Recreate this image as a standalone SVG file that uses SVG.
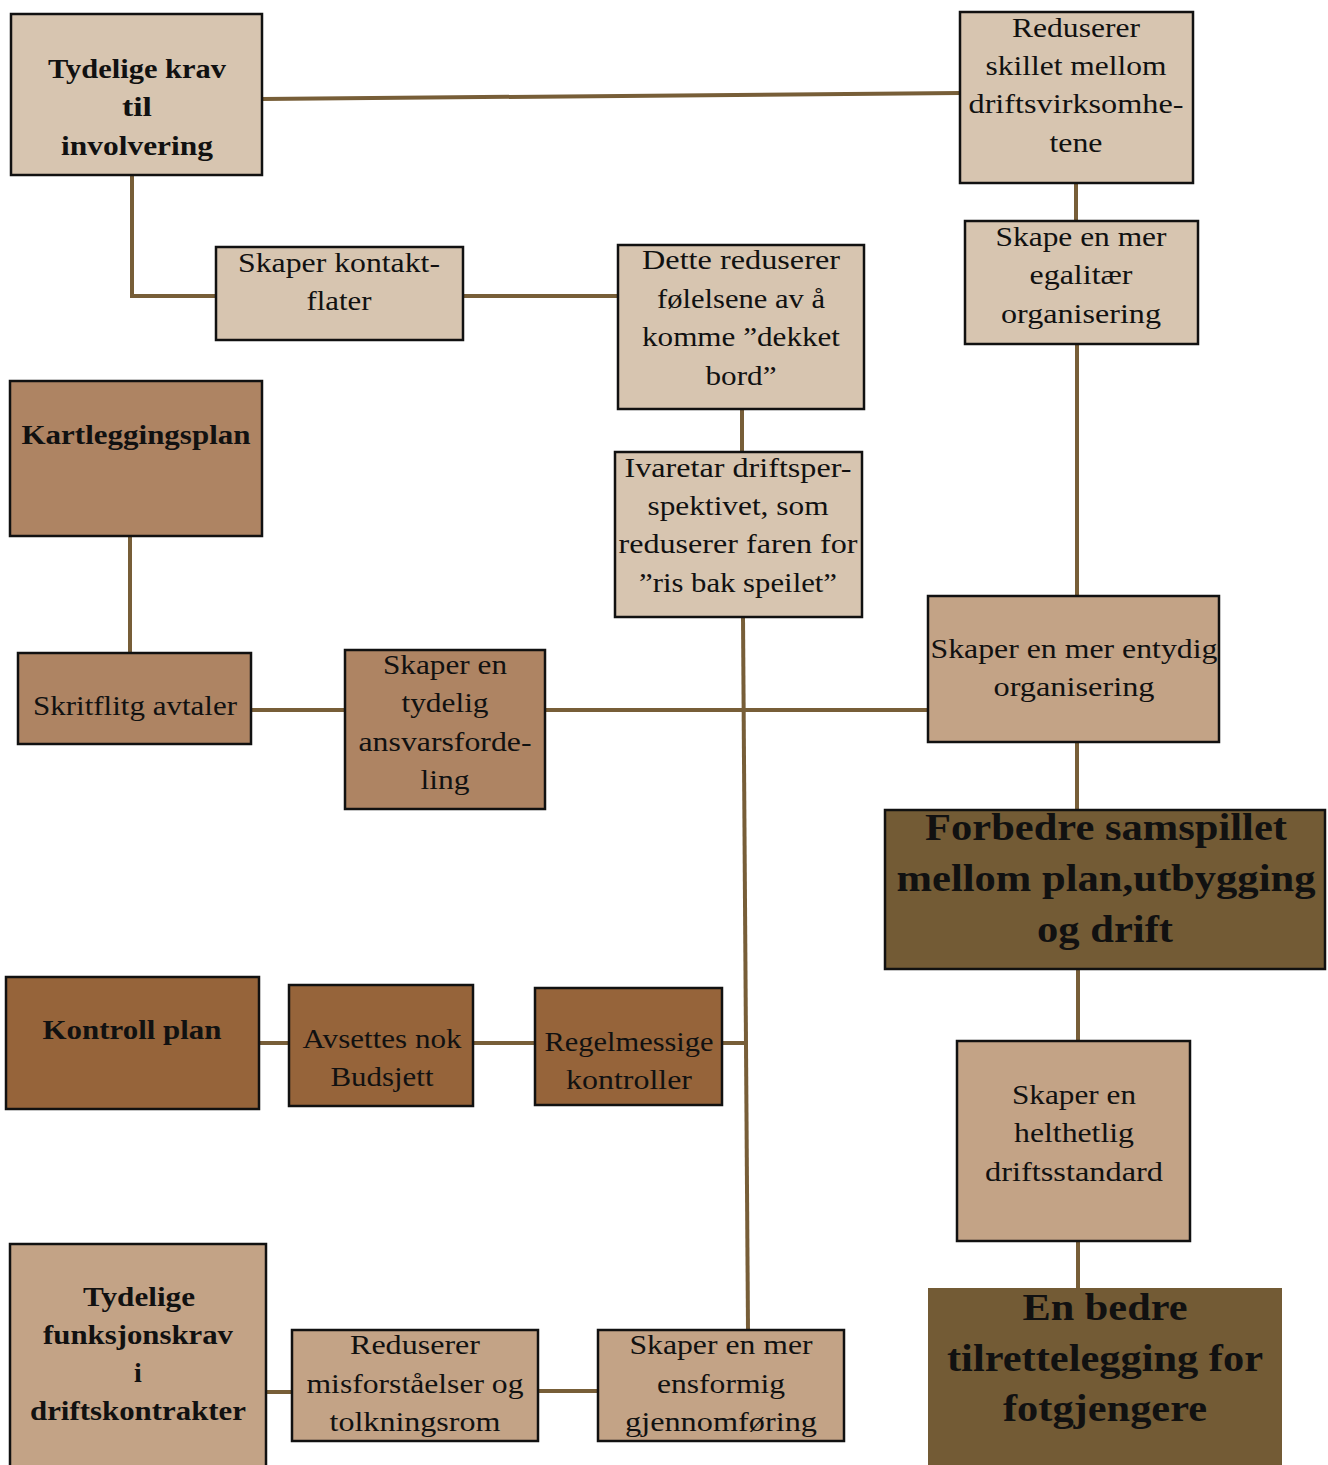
<svg xmlns="http://www.w3.org/2000/svg" width="1328" height="1465" viewBox="0 0 1328 1465">
  <style>
    .box { stroke: #111; stroke-width: 2.5; }
    .c1 { fill: #d7c5b0; }
    .c2 { fill: #c3a386; }
    .c3 { fill: #ae8463; }
    .c4 { fill: #96643a; }
    .c5 { fill: #735b35; }
    text { font-family: "Liberation Serif", "DejaVu Serif", serif; fill: #111; text-anchor: middle; }
    .t { font-size: 28px; }
    .b { font-size: 28px; font-weight: bold; }
    .big { font-size: 38px; font-weight: bold; }
    .link { stroke: #775e38; stroke-width: 4; fill: none; }
  </style>

  <!-- connectors -->
  <g id="connectors">
    <line class="link" x1="262" y1="99" x2="960" y2="93"/>
    <polyline class="link" points="132,175 132,296 216,296"/>
    <line class="link" x1="463" y1="296" x2="618" y2="296"/>
    <line class="link" x1="1076" y1="183" x2="1076" y2="221"/>
    <line class="link" x1="1077" y1="344" x2="1077" y2="596"/>
    <line class="link" x1="742" y1="409" x2="742" y2="452"/>
    <line class="link" x1="743" y1="617" x2="748" y2="1330"/>
    <line class="link" x1="130" y1="536" x2="130" y2="653"/>
    <line class="link" x1="251" y1="710" x2="345" y2="710"/>
    <line class="link" x1="545" y1="710" x2="928" y2="710"/>
    <line class="link" x1="1077" y1="742" x2="1077" y2="810"/>
    <line class="link" x1="1078" y1="969" x2="1078" y2="1041"/>
    <line class="link" x1="1078" y1="1241" x2="1078" y2="1288"/>
    <line class="link" x1="259" y1="1043" x2="289" y2="1043"/>
    <line class="link" x1="473" y1="1043" x2="535" y2="1043"/>
    <line class="link" x1="722" y1="1043" x2="746" y2="1043"/>
    <line class="link" x1="266" y1="1392" x2="292" y2="1392"/>
    <line class="link" x1="538" y1="1391" x2="598" y2="1391"/>
  </g>

  <g id="tydelige-krav">
    <rect class="box c1" x="11" y="14" width="251" height="161"/>
    <text class="b" x="137" y="78" textLength="178" lengthAdjust="spacingAndGlyphs">Tydelige krav</text>
    <text class="b" x="137" y="116" textLength="30" lengthAdjust="spacingAndGlyphs">til</text>
    <text class="b" x="137" y="155" textLength="152" lengthAdjust="spacingAndGlyphs">involvering</text>
  </g>

  <g id="reduserer-skillet">
    <rect class="box c1" x="960" y="12" width="233" height="171"/>
    <text class="t" x="1076" y="37" textLength="128" lengthAdjust="spacingAndGlyphs">Reduserer</text>
    <text class="t" x="1076" y="75" textLength="181" lengthAdjust="spacingAndGlyphs">skillet mellom</text>
    <text class="t" x="1076" y="113" textLength="215" lengthAdjust="spacingAndGlyphs">driftsvirksomhe-</text>
    <text class="t" x="1076" y="152" textLength="53" lengthAdjust="spacingAndGlyphs">tene</text>
  </g>

  <g id="egalitaer">
    <rect class="box c1" x="965" y="221" width="233" height="123"/>
    <text class="t" x="1081" y="246" textLength="171" lengthAdjust="spacingAndGlyphs">Skape en mer</text>
    <text class="t" x="1081" y="284" textLength="103" lengthAdjust="spacingAndGlyphs">egalitær</text>
    <text class="t" x="1081" y="323" textLength="160" lengthAdjust="spacingAndGlyphs">organisering</text>
  </g>

  <g id="kontaktflater">
    <rect class="box c1" x="216" y="247" width="247" height="93"/>
    <text class="t" x="339" y="272" textLength="202" lengthAdjust="spacingAndGlyphs">Skaper kontakt-</text>
    <text class="t" x="339" y="310" textLength="65" lengthAdjust="spacingAndGlyphs">flater</text>
  </g>

  <g id="dekket-bord">
    <rect class="box c1" x="618" y="245" width="246" height="164"/>
    <text class="t" x="741" y="269" textLength="198" lengthAdjust="spacingAndGlyphs">Dette reduserer</text>
    <text class="t" x="741" y="308" textLength="168" lengthAdjust="spacingAndGlyphs">følelsene av å</text>
    <text class="t" x="741" y="346" textLength="198" lengthAdjust="spacingAndGlyphs">komme ”dekket</text>
    <text class="t" x="741" y="385" textLength="71" lengthAdjust="spacingAndGlyphs">bord”</text>
  </g>

  <g id="kartleggingsplan">
    <rect class="box c3" x="10" y="381" width="252" height="155"/>
    <text class="b" x="136" y="444" textLength="229" lengthAdjust="spacingAndGlyphs">Kartleggingsplan</text>
  </g>

  <g id="driftsperspektivet">
    <rect class="box c1" x="615" y="452" width="247" height="165"/>
    <text class="t" x="738" y="477" textLength="227" lengthAdjust="spacingAndGlyphs">Ivaretar driftsper-</text>
    <text class="t" x="738" y="515" textLength="181" lengthAdjust="spacingAndGlyphs">spektivet, som</text>
    <text class="t" x="738" y="553" textLength="239" lengthAdjust="spacingAndGlyphs">reduserer faren for</text>
    <text class="t" x="738" y="592" textLength="198" lengthAdjust="spacingAndGlyphs">”ris bak speilet”</text>
  </g>

  <g id="skriftlige-avtaler">
    <rect class="box c3" x="18" y="653" width="233" height="91"/>
    <text class="t" x="135" y="715" textLength="204" lengthAdjust="spacingAndGlyphs">Skritflitg avtaler</text>
  </g>

  <g id="ansvarsfordeling">
    <rect class="box c3" x="345" y="650" width="200" height="159"/>
    <text class="t" x="445" y="674" textLength="124" lengthAdjust="spacingAndGlyphs">Skaper en</text>
    <text class="t" x="445" y="712" textLength="87" lengthAdjust="spacingAndGlyphs">tydelig</text>
    <text class="t" x="445" y="751" textLength="173" lengthAdjust="spacingAndGlyphs">ansvarsforde-</text>
    <text class="t" x="445" y="789" textLength="49" lengthAdjust="spacingAndGlyphs">ling</text>
  </g>

  <g id="entydig">
    <rect class="box c2" x="928" y="596" width="291" height="146"/>
    <text class="t" x="1074" y="658" textLength="287" lengthAdjust="spacingAndGlyphs">Skaper en mer entydig</text>
    <text class="t" x="1074" y="696" textLength="161" lengthAdjust="spacingAndGlyphs">organisering</text>
  </g>

  <g id="samspillet">
    <rect class="box c5" x="885" y="810" width="440" height="159"/>
    <text class="big" x="1106" y="840" textLength="362" lengthAdjust="spacingAndGlyphs">Forbedre samspillet</text>
    <text class="big" x="1106" y="891" textLength="419" lengthAdjust="spacingAndGlyphs">mellom plan,utbygging</text>
    <text class="big" x="1105" y="942" textLength="136" lengthAdjust="spacingAndGlyphs">og drift</text>
  </g>

  <g id="kontroll-plan">
    <rect class="box c4" x="6" y="977" width="253" height="132"/>
    <text class="b" x="132" y="1039" textLength="179" lengthAdjust="spacingAndGlyphs">Kontroll plan</text>
  </g>

  <g id="budsjett">
    <rect class="box c4" x="289" y="985" width="184" height="121"/>
    <text class="t" x="382" y="1048" textLength="159" lengthAdjust="spacingAndGlyphs">Avsettes nok</text>
    <text class="t" x="382" y="1086" textLength="103" lengthAdjust="spacingAndGlyphs">Budsjett</text>
  </g>

  <g id="kontroller">
    <rect class="box c4" x="535" y="988" width="187" height="117"/>
    <text class="t" x="629" y="1051" textLength="169" lengthAdjust="spacingAndGlyphs">Regelmessige</text>
    <text class="t" x="629" y="1089" textLength="126" lengthAdjust="spacingAndGlyphs">kontroller</text>
  </g>

  <g id="driftsstandard">
    <rect class="box c2" x="957" y="1041" width="233" height="200"/>
    <text class="t" x="1074" y="1104" textLength="124" lengthAdjust="spacingAndGlyphs">Skaper en</text>
    <text class="t" x="1074" y="1142" textLength="120" lengthAdjust="spacingAndGlyphs">helthetlig</text>
    <text class="t" x="1074" y="1181" textLength="178" lengthAdjust="spacingAndGlyphs">driftsstandard</text>
  </g>

  <g id="fotgjengere">
    <rect class="c5" x="928" y="1288" width="354" height="180"/>
    <text class="big" x="1105" y="1320" textLength="165" lengthAdjust="spacingAndGlyphs">En bedre</text>
    <text class="big" x="1105" y="1371" textLength="316" lengthAdjust="spacingAndGlyphs">tilrettelegging for</text>
    <text class="big" x="1105" y="1421" textLength="204" lengthAdjust="spacingAndGlyphs">fotgjengere</text>
  </g>

  <g id="funksjonskrav">
    <rect class="box c2" x="10" y="1244" width="256" height="226"/>
    <text class="b" x="139" y="1306" textLength="112" lengthAdjust="spacingAndGlyphs">Tydelige</text>
    <text class="b" x="138" y="1344" textLength="190" lengthAdjust="spacingAndGlyphs">funksjonskrav</text>
    <text class="b" x="138" y="1382">i</text>
    <text class="b" x="138" y="1420" textLength="216" lengthAdjust="spacingAndGlyphs">driftskontrakter</text>
  </g>

  <g id="misforstaelser">
    <rect class="box c2" x="292" y="1330" width="246" height="111"/>
    <text class="t" x="415" y="1354" textLength="130" lengthAdjust="spacingAndGlyphs">Reduserer</text>
    <text class="t" x="415" y="1393" textLength="217" lengthAdjust="spacingAndGlyphs">misforståelser og</text>
    <text class="t" x="415" y="1431" textLength="171" lengthAdjust="spacingAndGlyphs">tolkningsrom</text>
  </g>

  <g id="ensformig">
    <rect class="box c2" x="598" y="1330" width="246" height="111"/>
    <text class="t" x="721" y="1354" textLength="183" lengthAdjust="spacingAndGlyphs">Skaper en mer</text>
    <text class="t" x="721" y="1393" textLength="128" lengthAdjust="spacingAndGlyphs">ensformig</text>
    <text class="t" x="721" y="1431" textLength="192" lengthAdjust="spacingAndGlyphs">gjennomføring</text>
  </g>
</svg>
